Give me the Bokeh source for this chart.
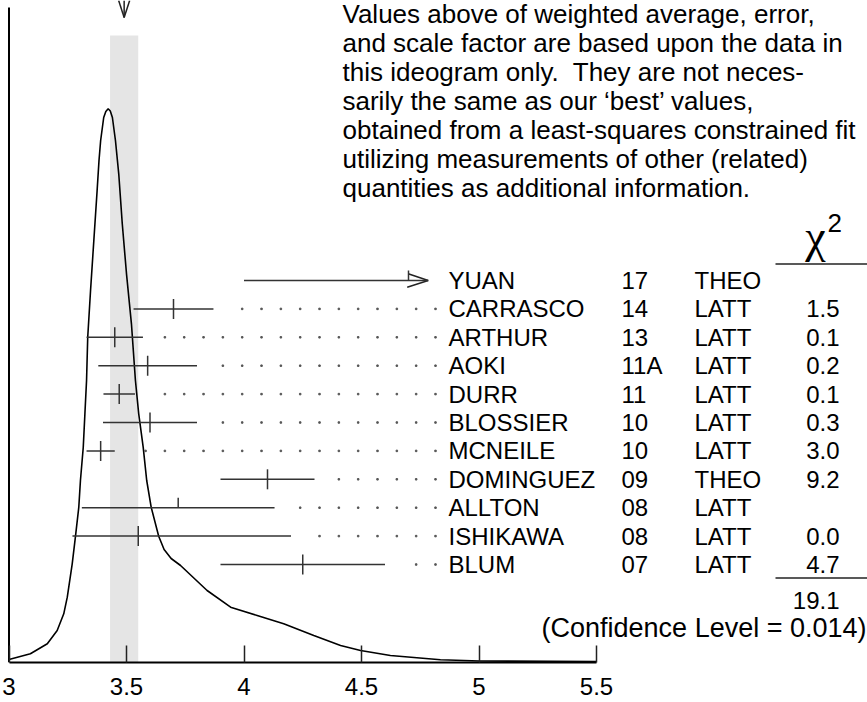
from bokeh.plotting import figure
from bokeh.models import Range1d, FixedTicker, LinearAxis, ColumnDataSource
from bokeh.embed import file_html
from bokeh.resources import INLINE
from bokeh.core.properties import value

# ---------------- data ----------------
names = ["YUAN", "CARRASCO", "ARTHUR", "AOKI", "DURR", "BLOSSIER",
         "MCNEILE", "DOMINGUEZ", "ALLTON", "ISHIKAWA", "BLUM"]
years = ["17", "14", "13", "11A", "11", "10", "10", "09", "08", "08", "07"]
kinds = ["THEO", "LATT", "LATT", "LATT", "LATT", "LATT",
         "LATT", "THEO", "LATT", "LATT", "LATT"]
values_ = [4.70, 3.70, 3.45, 3.59, 3.469, 3.60, 3.39, 4.10, 3.72, 3.55, 4.25]
err_lo = [0.70, 0.17, 0.12, 0.21, 0.067, 0.20, 0.06, 0.20, 0.41, 0.28, 0.35]
err_hi = [0.70, 0.17, 0.12, 0.21, 0.067, 0.20, 0.06, 0.20, 0.41, 0.65, 0.35]
chi2 = ["", "1.5", "0.1", "0.2", "0.1", "0.3", "3.0", "9.2", "", "0.0", "4.7"]
chi2_total = "19.1"
conf_level = "0.014"
avg = 3.49
avg_err = 0.06

curve_x = [3.000, 3.091, 3.163, 3.205, 3.233, 3.248, 3.269, 3.283, 3.297, 3.304,
           3.316, 3.323, 3.330, 3.335, 3.347, 3.361, 3.375, 3.383, 3.390, 3.403,
           3.412, 3.422, 3.431, 3.440, 3.453, 3.467, 3.482, 3.500, 3.521, 3.538,
           3.552, 3.571, 3.586, 3.605, 3.637, 3.660, 3.690, 3.730, 3.843, 3.943,
           4.056, 4.169, 4.297, 4.411, 4.496, 4.623, 4.836, 5.002, 5.500]
curve_y = [3, 8.7, 18.7, 32, 48.7, 65.3, 98.7, 126.3, 155.3, 182,
           215.3, 248.7, 282, 325.3, 372, 422, 472, 502, 522, 545,
           551, 553.7, 551.5, 545, 522, 488.7, 438.7, 388.7, 338.7, 282,
           248.7, 215.3, 182, 155.3, 126.3, 113, 104, 97, 72, 55.3,
           47, 38.7, 27, 17, 12, 7, 2.7, 1.5, 1]

tick_values = [3, 3.5, 4, 4.5, 5, 5.5]
tick_labels = ["3", "3.5", "4", "4.5", "5", "5.5"]

note_lines = [
    "Values above of weighted average, error,",
    "and scale factor are based upon the data in",
    "this ideogram only.\u00a0 They are not neces-",
    "sarily the same as our \u2018best\u2019 values,",
    "obtained from a least-squares constrained fit",
    "utilizing measurements of other (related)",
    "quantities as additional information.",
]

# ---------------- layout helpers (pixel -> data) ----------------
W, FH, H = 867, 662, 702
PX0, PXU = 8.5, 235.0          # x=3 sits at 8.5 px, 235 px per unit


def dx(px):
    return 3 + (px - PX0) / PXU


def dy(py):
    return FH - py


FONT_NAME = "Liberation Sans"
FONT = value(FONT_NAME)
FS = "24px"
NOTE_FS = "26px"
INK = "#222222"

p = figure(frame_width=W, frame_height=FH, x_axis_type=None, y_axis_type=None,
           x_range=Range1d(dx(0), dx(W)), y_range=Range1d(0, FH),
           output_backend="svg", toolbar_location=None,
           min_border_left=0, min_border_right=0, min_border_top=0,
           min_border_bottom=H - FH, outline_line_color=None)
p.xgrid.visible = False
p.ygrid.visible = False

# average band
p.quad(left=[avg - avg_err], right=[avg + avg_err], bottom=[0], top=[dy(35)],
       fill_color="#e5e5e5", line_color=None)

# arrow at top marking the average
tip = dy(17)
p.segment(x0=[avg], y0=[tip], x1=[avg], y1=[FH], line_color=INK, line_width=1.5)
p.segment(x0=[avg, avg], y0=[tip, tip],
          x1=[avg - 5.5 / PXU, avg + 5.5 / PXU], y1=[FH, FH],
          line_color=INK, line_width=1.5)

# left frame line
p.segment(x0=[3], y0=[0], x1=[3], y1=[dy(7)], line_color="black", line_width=2)

# ideogram curve
p.line(curve_x, curve_y, line_color="black", line_width=1.6)

# rows
row_y0, row_dy = dy(280), 28.4
rows_y = [row_y0 - i * row_dy for i in range(len(names))]
arrow_limit = dx(427.7)
dot_end, dot_step = dx(435), 19.33 / PXU

seg_x0, seg_x1, seg_y = [], [], []
tk_x, tk_y0, tk_y1 = [], [], []
dots_x, dots_y = [], []
for i, (v, lo, hi, c2) in enumerate(zip(values_, err_lo, err_hi, chi2)):
    y = rows_y[i]
    left, right = v - lo, v + hi
    clipped = right > arrow_limit
    right_draw = min(right, arrow_limit)
    seg_x0.append(left); seg_x1.append(right_draw); seg_y.append(y)
    tk_x.append(v)
    tk_y0.append(y if c2 == "" else y - 10)
    tk_y1.append(y + 10)
    if clipped:
        p.segment(x0=[right_draw, right_draw], y0=[y, y],
                  x1=[right_draw - 20 / PXU, right_draw - 21 / PXU],
                  y1=[y + 6.7, y - 6.7], line_color=INK, line_width=1.5)
    else:
        g = dot_end
        while g >= right + 15 / PXU:
            dots_x.append(g); dots_y.append(y)
            g -= dot_step

p.segment(x0=seg_x0, y0=seg_y, x1=seg_x1, y1=seg_y, line_color="#333333", line_width=1.5)
p.segment(x0=tk_x, y0=tk_y0, x1=tk_x, y1=tk_y1, line_color="#333333", line_width=1.5)
p.scatter(dots_x, dots_y, marker="square", size=1.5, color="#555555")

# table text
src = ColumnDataSource(dict(y=rows_y, n=names, yr=years, k=kinds, c=chi2))
p.text(x=dx(448), y="y", text="n", source=src, text_font=FONT, text_font_size=FS,
       text_baseline="middle", text_align="left", text_color="black")
p.text(x=dx(621), y="y", text="yr", source=src, text_font=FONT, text_font_size=FS,
       text_baseline="middle", text_align="left", text_color="black")
p.text(x=dx(694), y="y", text="k", source=src, text_font=FONT, text_font_size=FS,
       text_baseline="middle", text_align="left", text_color="black")
p.text(x=dx(839), y="y", text="c", source=src, text_font=FONT, text_font_size=FS,
       text_baseline="middle", text_align="right", text_color="black")

# chi^2 header + rules
p.text(x=[dx(815)], y=[dy(236)], text=["\u03c7"], text_font=value("Liberation Serif"),
       text_font_size="46px", text_baseline="middle", text_align="center",
       text_color="black")
p.text(x=[dx(827)], y=[dy(222)], text=["2"], text_font=FONT, text_font_size="26px",
       text_baseline="middle", text_align="left", text_color="black")
p.segment(x0=[dx(775), dx(775)], y0=[dy(263.5), dy(577.5)],
          x1=[dx(W), dx(W)], y1=[dy(263.5), dy(577.5)], line_color=INK, line_width=1.4)
p.text(x=[dx(839)], y=[dy(600)], text=[chi2_total], text_font=FONT, text_font_size=FS,
       text_baseline="middle", text_align="right", text_color="black")
p.text(x=[dx(866)], y=[dy(627)], text=["(Confidence Level = %s)" % conf_level],
       text_font=FONT, text_font_size="27px", text_baseline="middle", text_align="right",
       text_color="black")

# explanatory note
p.text(x=[dx(342)] * len(note_lines), y=[dy(13 + 29 * i) for i in range(len(note_lines))],
       text=note_lines, text_font=FONT, text_font_size=NOTE_FS, text_baseline="middle",
       text_align="left", text_color="black")

# x axis
ax = LinearAxis(ticker=FixedTicker(ticks=tick_values), bounds=(3, 5.5),
                major_tick_in=17, major_tick_out=0, minor_tick_in=0, minor_tick_out=0,
                axis_line_width=2, axis_line_color="black",
                major_tick_line_width=1.5, major_tick_line_color=INK,
                major_label_text_font=FONT_NAME, major_label_text_font_size=FS,
                major_label_text_color="black", major_label_standoff=15,
                major_label_overrides={(int(t) if t == int(t) else t): lab
                                       for t, lab in zip(tick_values, tick_labels)})
p.add_layout(ax, "below")

open("out.html", "w").write(file_html(p, INLINE))
